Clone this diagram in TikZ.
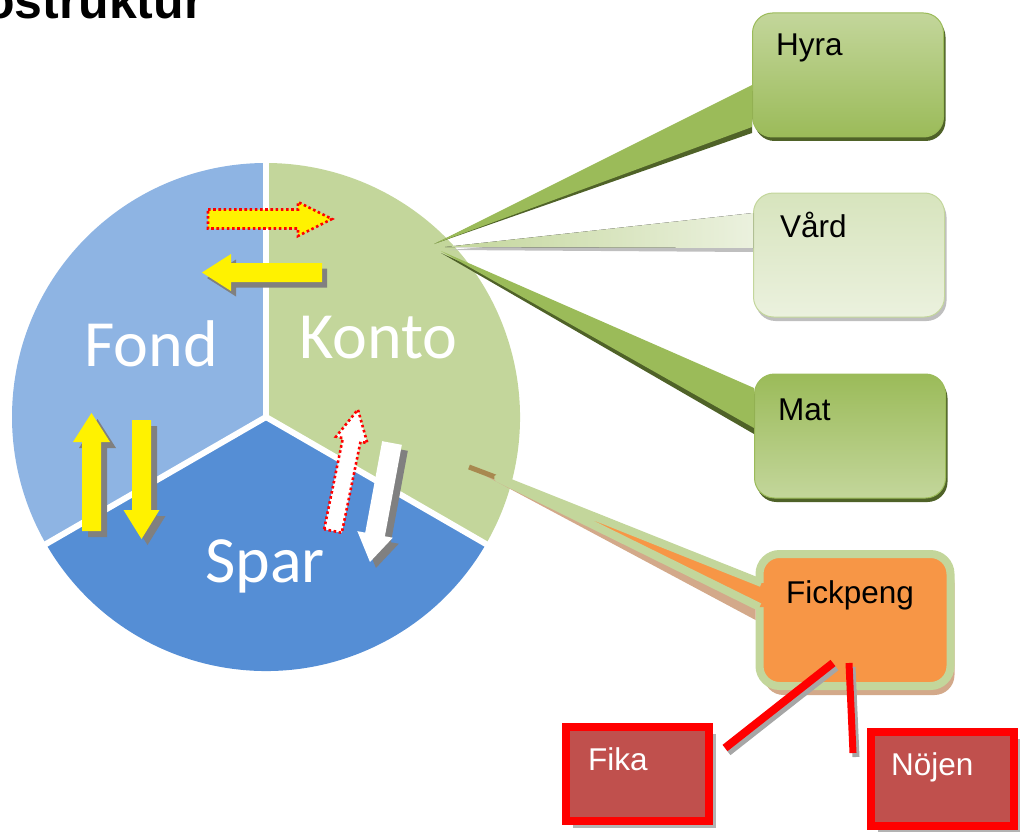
\documentclass[tikz,border=0pt]{standalone}
\usepackage{fontspec}
\setmainfont{Liberation Sans}
\newfontfamily\piefont{Carlito}
\usetikzlibrary{shadows}

\definecolor{fondblue}{HTML}{8EB4E3}
\definecolor{sparblue}{HTML}{558ED5}
\definecolor{kontogreen}{HTML}{C3D69B}
\definecolor{midgreen}{HTML}{9BBB59}
\definecolor{darkgreen}{HTML}{4F6228}
\definecolor{palegreen}{HTML}{EBF1DE}
\definecolor{lightgreen}{HTML}{D7E4BD}
\definecolor{fickorange}{HTML}{F79646}
\definecolor{fickshadow}{HTML}{D3A98A}
\definecolor{tipbrown}{HTML}{A8894F}
\definecolor{fikared}{HTML}{C0504D}
\definecolor{arrowgray}{HTML}{808080}

\tikzset{
  pics/blockarrow/.style n args={4}{code={
    \path[pic actions] (0,-#2) -- (#1-#4,-#2) -- (#1-#4,-#3) -- (#1,0)
      -- (#1-#4,#3) -- (#1-#4,#2) -- (0,#2) -- cycle;}},
  dotline/.style={draw=red, line width=2.6pt, dash pattern=on 2.6pt off 2.6pt},
  piecut/.style={white, line width=6pt},
  pielabel/.style={white, inner sep=0pt, anchor=base west, font=\piefont\fontsize{66}{70}\selectfont},
  boxtext/.style={inner sep=0pt, anchor=base west, font=\fontsize{31.5}{36}\selectfont},
  budgetbox/.style={rounded corners=20pt, minimum width=191pt, minimum height=124pt, line width=1pt},
  redbox/.style={draw=red, fill=fikared, line width=8pt, minimum width=143pt, minimum height=94pt,
    drop shadow={shadow xshift=7pt, shadow yshift=-7pt, fill=gray, opacity=.6}},
  redline/.style={red, line width=8pt},
}

\begin{document}
\begin{tikzpicture}[x=1pt,y=-1pt]
\useasboundingbox (0,0) rectangle (1020,832);

% titel
\node[anchor=base west, inner sep=0pt, font=\bfseries\fontsize{50}{56}\selectfont] (titel) at (-16,19) {ostruktur};

% pie
\coordinate (mitt) at (266,417);
\fill[fondblue] (mitt) -- +(-90:254) arc (-90:-210:254) -- cycle;
\fill[sparblue] (mitt) -- +(-210:254) arc (-210:-330:254) -- cycle;
\fill[kontogreen] (mitt) -- +(30:254) arc (30:-90:254) -- cycle;
\draw[piecut] (mitt) -- +(-90:256);
\draw[piecut] (mitt) -- +(-210:256);
\draw[piecut] (mitt) -- +(30:256);

\node[pielabel] (fond) at (84,366) {Fond};
\node[pielabel] (konto) at (299,358) {Konto};
\node[pielabel] (spar) at (205,582) {Spar};

% pilar
\pic[fill=yellow, dotline] at (208,219) {blockarrow={124}{9.5}{17}{34}};
\pic[fill=arrowgray, rotate=180] at (327,278) {blockarrow={120}{9.5}{18.5}{29}};
\pic[fill=yellow, rotate=180] at (322,272.5) {blockarrow={120}{9.5}{18.5}{29}};
\pic[fill=arrowgray, rotate=90] at (97.5,537) {blockarrow={118}{9.5}{18.5}{29}};
\pic[fill=yellow, rotate=90] at (91.5,531) {blockarrow={118}{9.5}{18.5}{29}};
\pic[fill=arrowgray, rotate=-90] at (147.5,426) {blockarrow={119}{9.5}{18}{29}};
\pic[fill=yellow, rotate=-90] at (141.5,420) {blockarrow={119}{9.5}{18}{29}};
\pic[fill=white, dotline, rotate=78.4] at (333,531) {blockarrow={124}{9}{16}{31}};
\pic[fill=arrowgray, rotate=-100.5] at (398,449) {blockarrow={121}{10}{18}{28}};
\pic[fill=white, rotate=-100.5] at (392,443) {blockarrow={121}{10}{18}{28}};

% rutor
\node[budgetbox, draw=midgreen, top color=kontogreen, bottom color=midgreen,
  drop shadow={shadow xshift=2pt, shadow yshift=-4pt, fill=darkgreen, opacity=1}] (hyra) at (848,75) {};
\node[budgetbox, draw=kontogreen, top color=lightgreen, bottom color=palegreen,
  drop shadow={shadow xshift=2pt, shadow yshift=-4pt, fill=gray!50, opacity=1}] (vard) at (849,255) {};
\node[budgetbox, draw=midgreen, top color=midgreen, bottom color=kontogreen,
  drop shadow={shadow xshift=2pt, shadow yshift=-4pt, fill=darkgreen, opacity=1}] (mat) at (850,436) {};
\node[budgetbox, minimum height=132pt, draw=kontogreen, line width=8pt, fill=fickorange,
  drop shadow={shadow xshift=4pt, shadow yshift=-9pt, fill=fickshadow, opacity=1}] (fick) at (855,620) {};

% spetsar
\coordinate (spetsH) at (434,244);
\coordinate (spetsV) at (445,247);
\coordinate (spetsM) at (441,251);
\coordinate (spetsF) at (498,478);
\coordinate (skuggF) at (469,467);

\fill[darkgreen] (spetsH) -- ([yshift=-16pt]hyra.west) -- ([yshift=-58pt]hyra.west) -- cycle;
\fill[midgreen] (spetsH) -- ([yshift=-10pt]hyra.west) -- ([yshift=-52pt]hyra.west) -- cycle;

\fill[gray!50] ([xshift=4pt,yshift=-3pt]spetsV) -- ([yshift=30pt]vard.west) -- ([yshift=3pt]vard.west) -- cycle;
\fill[left color=kontogreen, right color=palegreen] (spetsV) -- ([yshift=42pt]vard.west) -- ([yshift=7pt]vard.west) -- cycle;

\fill[darkgreen] ([yshift=-2pt]spetsM) -- ([yshift=42pt]mat.west) -- ([yshift=2pt]mat.west) -- cycle;
\fill[midgreen] (spetsM) -- ([yshift=48pt]mat.west) -- ([yshift=8pt]mat.west) -- cycle;

\fill[fickshadow] (skuggF) -- ([yshift=34pt]fick.west) -- ([yshift=0pt]fick.west) -- cycle;
\draw[tipbrown, line width=5pt] (skuggF) -- (spetsF);
\fill[fickorange] (spetsF) -- ([xshift=6pt,yshift=37pt]fick.west) -- ([xshift=20pt,yshift=37pt]fick.west)
  -- ([xshift=20pt,yshift=13pt]fick.west) -- ([xshift=4pt,yshift=13pt]fick.west) -- cycle;
\draw[kontogreen, line width=8pt, line join=round] ([xshift=6pt,yshift=37pt]fick.west) -- (spetsF)
  -- ([xshift=4pt,yshift=13pt]fick.west);

\node[boxtext] (hyraTxt) at (776,56) {Hyra};
\node[boxtext] (vardTxt) at (780,237) {Vård};
\node[boxtext] (matTxt) at (778,420) {Mat};
\node[boxtext] (fickTxt) at (786,603) {Fickpeng};

% fika och nöjen
\node[redbox] (fika) at (637.5,774) {};
\node[redbox] (nojen) at (942,779) {};
\node[boxtext, white] (fikaTxt) at (588,770) {Fika};
\node[boxtext, white] (nojenTxt) at (891,775) {Nöjen};

\coordinate (fikaA) at (833,663);
\coordinate (fikaB) at (725,748);
\coordinate (nojenA) at (849,663);
\coordinate (nojenB) at (853,753);
\draw[gray!70, line width=8pt] ([xshift=3pt,yshift=-4pt]fikaA) -- ([xshift=3pt,yshift=-4pt]fikaB);
\draw[redline] (fikaA) -- (fikaB);
\draw[gray!70, line width=7pt] ([xshift=3pt,yshift=-4pt]nojenA) -- ([xshift=3pt,yshift=-4pt]nojenB);
\draw[redline, line width=7pt] (nojenA) -- (nojenB);
\end{tikzpicture}
\end{document}
